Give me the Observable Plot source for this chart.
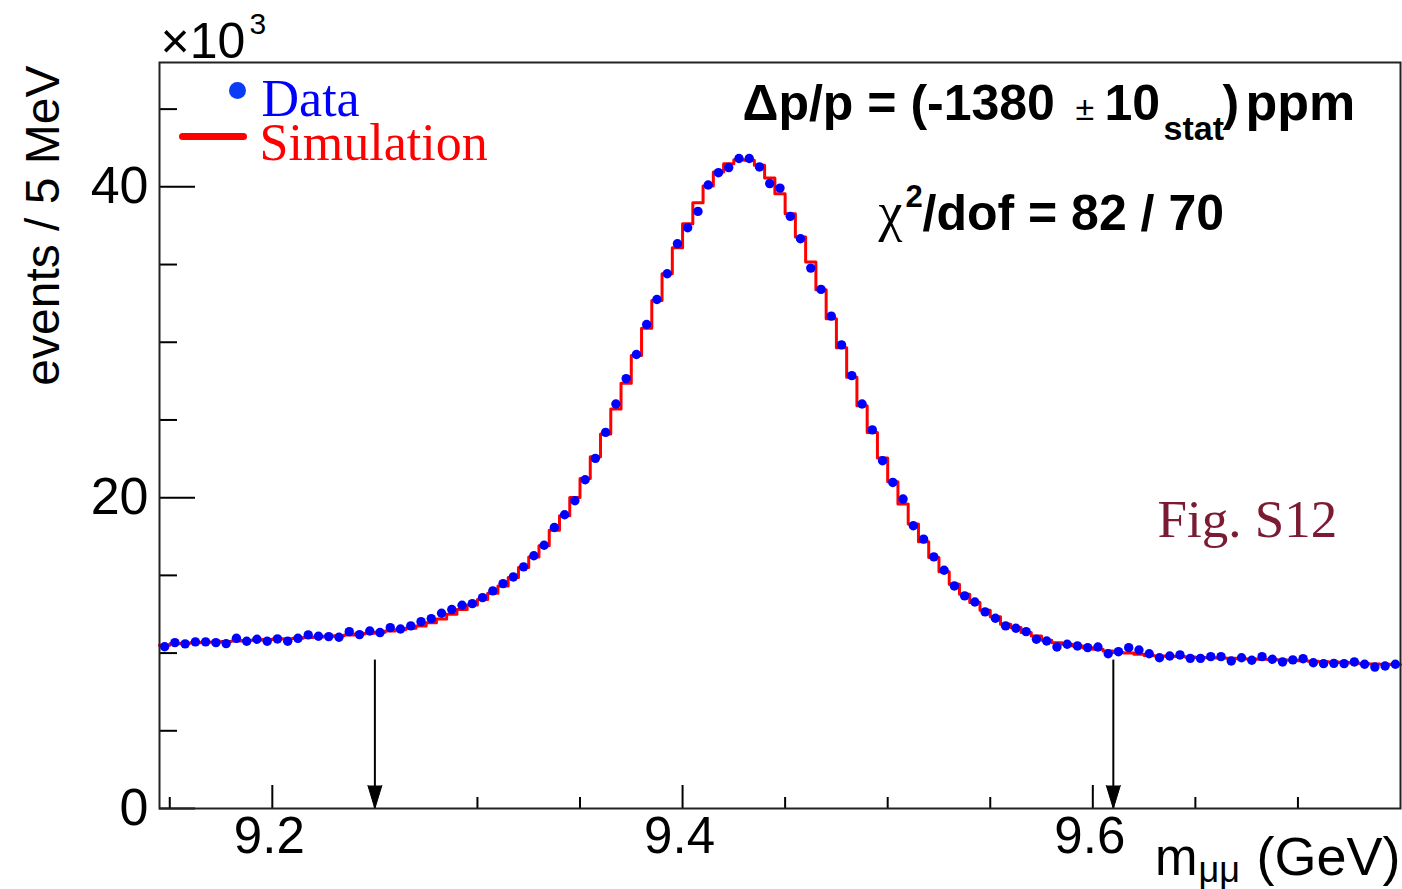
<!DOCTYPE html>
<html><head><meta charset="utf-8">
<script src="https://cdn.jsdelivr.net/npm/d3@7"></script>
<script src="https://cdn.jsdelivr.net/npm/@observablehq/plot@0.6"></script>
<style>html,body{margin:0;padding:0;background:#fff;overflow:hidden;}</style>
</head><body><div id="chart"></div>
<script>
// ---- data (counts in units of 10^3 events per 5 MeV bin) ----
const binStart = 9.145;   // GeV, low edge of first bin
const binWidth = 0.005;   // GeV
const dataCounts = [
  10.41, 10.67, 10.59, 10.72, 10.72, 10.67, 10.61, 10.95, 10.76, 10.89,
  10.76, 10.91, 10.76, 10.95, 11.17, 11.08, 11.06, 11.02, 11.38, 11.19,
  11.42, 11.32, 11.64, 11.55, 11.75, 12.02, 12.22, 12.56, 12.80, 13.08,
  13.18, 13.57, 14.00, 14.47, 14.90, 15.55, 16.26, 16.94, 18.08, 18.90,
  19.80, 21.15, 22.53, 24.20, 26.03, 27.66, 29.21, 31.14, 32.75, 34.41,
  36.34, 37.37, 38.42, 40.12, 40.91, 41.24, 41.82, 41.82, 41.28, 40.21,
  39.92, 38.10, 36.66, 34.77, 33.40, 31.68, 29.83, 27.85, 26.03, 24.36,
  22.38, 20.98, 19.91, 18.19, 17.33, 16.19, 15.33, 14.32, 13.68, 13.29,
  12.65, 12.24, 11.75, 11.60, 11.38, 10.89, 10.78, 10.39, 10.57, 10.46,
  10.35, 10.39, 9.96, 10.09, 10.35, 10.20, 9.96, 9.70, 9.81, 9.88,
  9.66, 9.66, 9.77, 9.77, 9.49, 9.70, 9.54, 9.77, 9.60, 9.43,
  9.56, 9.64, 9.38, 9.32, 9.34, 9.32, 9.43, 9.28, 9.10, 9.17,
  9.28
];
const simCounts = [
  10.50, 10.60, 10.63, 10.66, 10.69, 10.72, 10.75, 10.78, 10.81, 10.84,
  10.87, 10.90, 10.93, 10.96, 11.00, 11.04, 11.08, 11.12, 11.17, 11.22,
  11.28, 11.34, 11.42, 11.50, 11.60, 11.75, 11.95, 12.20, 12.50, 12.80,
  13.10, 13.45, 13.85, 14.32, 14.86, 15.50, 16.19, 16.90, 17.91, 18.83,
  20.01, 21.24, 22.64, 24.10, 25.71, 27.36, 29.14, 30.90, 32.69, 34.41,
  36.08, 37.63, 38.98, 40.05, 40.95, 41.49, 41.75, 41.71, 41.39, 40.57,
  39.56, 38.27, 36.77, 35.16, 33.38, 31.51, 29.64, 27.75, 25.92, 24.20,
  22.55, 21.02, 19.59, 18.30, 17.16, 16.15, 15.23, 14.43, 13.79, 13.25,
  12.76, 12.33, 11.85, 11.64, 11.32, 11.10, 10.82, 10.67, 10.57, 10.46,
  10.35, 10.24, 10.13, 10.03, 10.00, 9.92, 9.85, 9.82, 9.80, 9.78,
  9.75, 9.72, 9.70, 9.68, 9.66, 9.64, 9.62, 9.60, 9.58, 9.56,
  9.54, 9.50, 9.47, 9.45, 9.42, 9.40, 9.36, 9.32, 9.30, 9.28,
  9.27
];
const xMajorTicks = [9.2, 9.4, 9.6];
const xMinorTicks = [9.15, 9.25, 9.3, 9.35, 9.45, 9.5, 9.55, 9.65, 9.7];
const yMajorTicks = [0, 20, 40];
const yMinorTicks = [5, 10, 15, 25, 30, 35, 45];
const arrowX = [9.25, 9.61];
const arrowTop = 9.55;
const xDomain = [9.145, 9.75];
const yDomain = [0, 48];

// ---- derived tables ----
const bins = dataCounts.map((v, i) => ({x: binStart + binWidth * (i + 0.5), data: v, sim: simCounts[i]}));
const steps = simCounts.map((v, i) => ({x: binStart + binWidth * i, y: v}));
steps.push({x: binStart + binWidth * simCounts.length, y: simCounts[simCounts.length - 1]});

const SANS = "'Liberation Sans', Arial, Helvetica, sans-serif";
const SERIF = "'Liberation Serif', 'Times New Roman', serif";
const L = 159, T = 62; // frame origin used for annotation offsets

function label(str, x, y, o = {}) {
  return Plot.text([str], {text: d => d, frameAnchor: "top-left", lineAnchor: "bottom",
    textAnchor: "start", dx: x - L, dy: y - T, fontFamily: SANS, fill: "black", ...o});
}
const lineShape = {draw(ctx, l) { ctx.moveTo(0, 0); ctx.lineTo(0, -l); }};

const chart = Plot.plot({
  width: 1402, height: 889,
  marginLeft: 159, marginRight: 2, marginTop: 62, marginBottom: 81,
  style: {fontFamily: SANS, background: "white", overflow: "visible", color: "black"},
  x: {domain: xDomain},
  y: {domain: yDomain},
  marks: [
    // ticks (inward)
    Plot.axisX({ticks: xMajorTicks, tickSize: -23, fill: "none", stroke: "black", strokeWidth: 2}),
    Plot.axisX({ticks: xMinorTicks, tickSize: -11, fill: "none", stroke: "black", strokeWidth: 2}),
    Plot.axisY({ticks: yMajorTicks, tickSize: -36, fill: "none", stroke: "black", strokeWidth: 2}),
    Plot.axisY({ticks: yMinorTicks, tickSize: -18, fill: "none", stroke: "black", strokeWidth: 2}),
    // tick labels
    Plot.axisX({ticks: xMajorTicks, tickSize: 0, tickPadding: 8, label: null, fontSize: 51, dx: -3, tickFormat: d => d.toFixed(1)}),
    Plot.axisY({ticks: yMajorTicks, tickSize: 0, tickPadding: 11, label: null, fontSize: 52}),
    // arrows
    Plot.ruleX(arrowX, {x: d => d, y1: 0, y2: arrowTop, stroke: "black", strokeWidth: 2}),
    Plot.vector(arrowX, {x: d => d, y: 0, shape: "spike", r: 7, length: 23, rotate: 180, anchor: "end", fill: "black", stroke: "black", strokeWidth: 1}),
    // simulation histogram
    Plot.line(steps, {x: "x", y: "y", curve: "step-after", stroke: "#ff0000", strokeWidth: 3}),
    // data points
    Plot.dot(bins, {x: "x", y: "data", r: 4.7, fill: "#0000ff", stroke: "none"}),
    Plot.frame({stroke: "#222", strokeWidth: 2}),
    // x10^3
    label("\u00d710", 160, 57, {fontSize: 50}),
    label("3", 249, 33, {fontSize: 30}),
    // axis titles
    Plot.text(["events / 5 MeV"], {text: d => d, frameAnchor: "top-left", rotate: -90, textAnchor: "end",
      lineAnchor: "bottom", dx: 58 - L, dy: 3, fontSize: 48, fontFamily: SANS, fill: "black"}),
    Plot.text(["(GeV)"], {text: d => d, frameAnchor: "bottom-right", textAnchor: "end", lineAnchor: "bottom",
      dx: 0, dy: 66, fontSize: 54, fontFamily: SANS, fill: "black"}),
    Plot.text(["\u03bc\u03bc"], {text: d => d, frameAnchor: "bottom-right", textAnchor: "start", lineAnchor: "bottom",
      dx: 1198 - 1400, dy: 73, fontSize: 36, fontFamily: SANS, fill: "black"}),
    Plot.text(["m"], {text: d => d, frameAnchor: "bottom-right", textAnchor: "end", lineAnchor: "bottom",
      dx: 1197 - 1400, dy: 66, fontSize: 51, fontFamily: SANS, fill: "black"}),
    // legend
    Plot.dot([0], {frameAnchor: "top-left", dx: 237 - L, dy: 90 - T, r: 8.5, fill: "#0a3cf5"}),
    label("Data", 261, 115, {fontSize: 52, fontFamily: SERIF, fill: "#0000ff"}),
    Plot.vector([0], {frameAnchor: "top-left", dx: 182 - L, dy: 136 - T, length: 61, rotate: 90, anchor: "start",
      shape: lineShape, stroke: "#ff0000", strokeWidth: 7}),
    label("Simulation", 259, 159, {fontSize: 52, fontFamily: SERIF, fill: "#ff0000"}),
    // annotations
    label("\u0394p/p = (-1380", 742, 119, {fontSize: 50, fontWeight: "bold"}),
    label("\u00b1", 1075, 119, {fontSize: 34}),
    label("10", 1104, 119, {fontSize: 50, fontWeight: "bold"}),
    label("stat", 1163, 139, {fontSize: 34, fontWeight: "bold"}),
    label(")", 1222, 119, {fontSize: 50, fontWeight: "bold"}),
    label("ppm", 1245, 119, {fontSize: 52, fontWeight: "bold"}),
    label("\u03c7", 878, 229, {fontSize: 54, fontFamily: SERIF}),
    label("2", 905, 206, {fontSize: 31, fontWeight: "bold"}),
    label("/dof = 82 / 70", 922, 229, {fontSize: 50, fontWeight: "bold"}),
    label("Fig. S12", 1157, 536, {fontSize: 53, fontFamily: SERIF, fill: "#7a1a33"})
  ]
});
document.getElementById("chart").appendChild(chart);
</script>
</body></html>
